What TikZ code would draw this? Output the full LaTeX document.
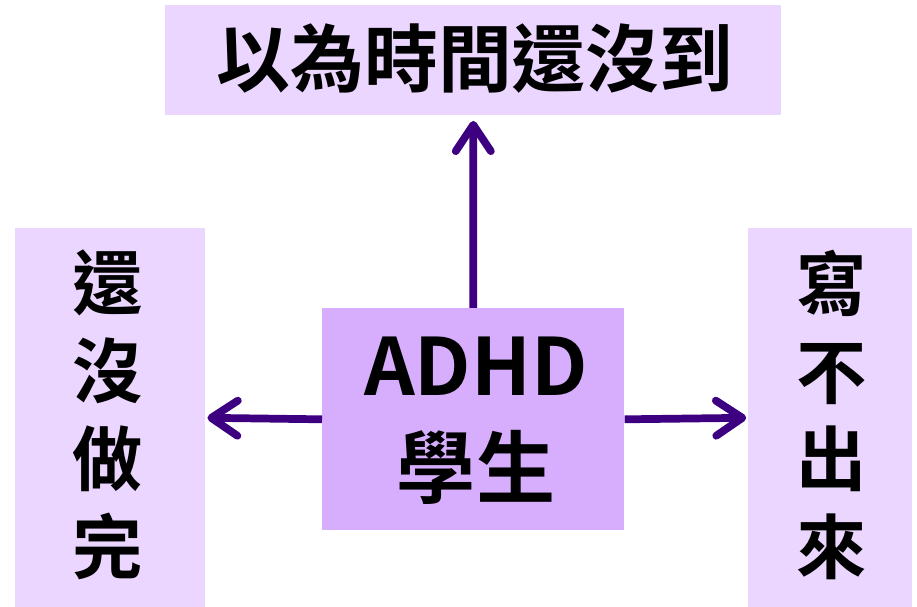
\documentclass[tikz,border=0pt]{standalone}
\usepackage{fontspec}
\usetikzlibrary{arrows.meta}
\setmainfont{Noto Sans CJK TC}[BoldFont={* Bold}]
\definecolor{lightlav}{HTML}{EAD6FE}
\definecolor{midlav}{HTML}{D7AEFE}
\definecolor{arrowpurple}{HTML}{3C0080}

\tikzset{
    box/.style={fill=lightlav, inner sep=0pt, anchor=north west},
    link/.style={draw=arrowpurple, line width=4.4pt,
        -{Straight Barb[length=15pt, width=20pt, line cap=round, line join=round]}}
}

\begin{document}
\begin{tikzpicture}[x=0.02cm, y=-0.02cm]
        \useasboundingbox (0,0) rectangle (917,607);

        \node[box, minimum width=12.32cm, minimum height=2.2cm] (top) at (165,5) {};
        \node[font=\fontsize{42}{42}\selectfont\bfseries] (toptxt) at (475,59) {以為時間還沒到};

        \node[box, minimum width=3.8cm, minimum height=7.58cm] (left) at (15,228) {};
        \node[font=\fontsize{40}{50}\selectfont\bfseries, align=center] (lefttxt) at (108,415)
            {還\\沒\\做\\完};

        \node[box, minimum width=3.28cm, minimum height=7.58cm] (right) at (748,228) {};
        \node[font=\fontsize{40}{50}\selectfont\bfseries, align=center] (righttxt) at (832,415)
            {寫\\不\\出\\來};

        \node[box, fill=midlav, minimum width=6.04cm, minimum height=4.44cm] (ctr) at (322,308) {};
        \node[font=\fontsize{45}{58}\selectfont\bfseries, align=center] (ctrtxt) at (476,421)
            {ADHD\\學生};

        \draw[link] (ctr.north) -- ([yshift=-3pt]top.south);
        \draw[link] (ctr.west) -- ([xshift=1pt]left.east);
        \draw[link] (ctr.east) -- ([xshift=-1pt]right.west);
\end{tikzpicture}
\end{document}
